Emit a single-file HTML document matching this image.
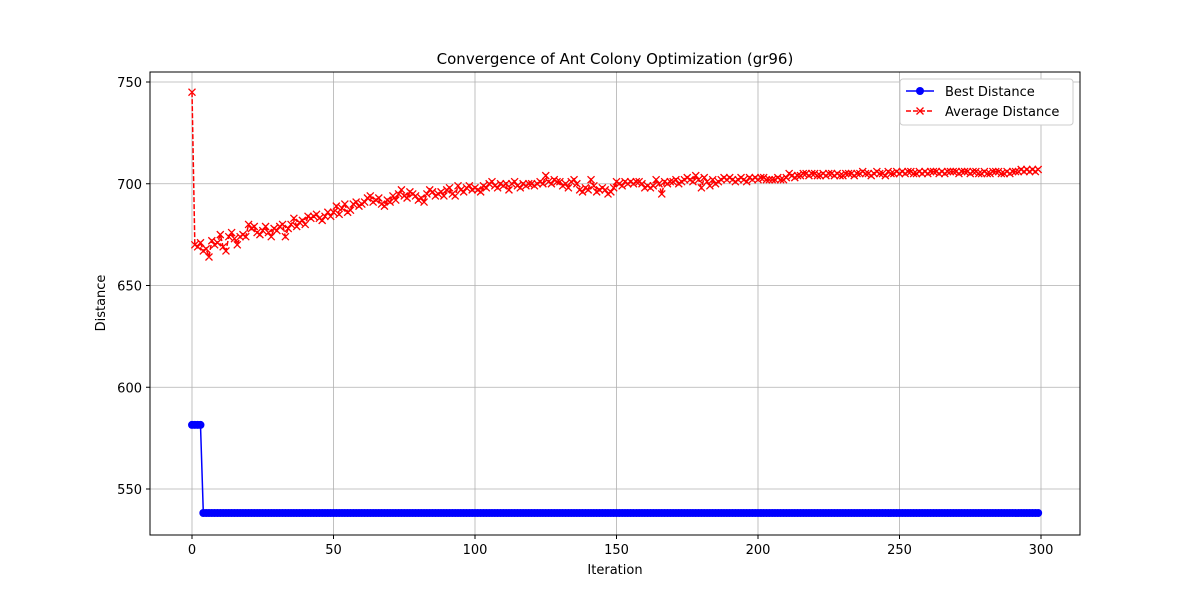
<!DOCTYPE html>
<html><head><meta charset="utf-8"><style>
body{margin:0;background:#fff;font-family:"Liberation Sans","DejaVu Sans",sans-serif}
svg text{font-family:"DejaVu Sans","Liberation Sans",sans-serif}
</style></head><body>
<svg id="chart" width="1200" height="600" xmlns="http://www.w3.org/2000/svg">
<rect width="1200" height="600" fill="#fff"/>
<g id="grid"></g>
<g id="series"></g>
<rect x="150" y="72" width="930" height="463" fill="none" stroke="#000" stroke-width="1"/>
<g id="axes"></g>
<text x="615" y="64" text-anchor="middle" font-size="15">Convergence of Ant Colony Optimization (gr96)</text>
<text x="615" y="574" text-anchor="middle" font-size="13">Iteration</text>
<text x="105" y="303" text-anchor="middle" font-size="13" transform="rotate(-90 105 303)">Distance</text>
<g>
<rect x="900" y="79" width="173" height="46" rx="3" fill="#fff" stroke="#ccc"/>
<g>
<line x1="906" y1="91" x2="934" y2="91" stroke="#0000ff" stroke-width="1.5"/>
<circle cx="920" cy="91" r="4" fill="#0000ff"/>
<text x="945" y="96" font-size="13">Best Distance</text></g>
<g>
<line x1="906" y1="111" x2="934" y2="111" stroke="#ff0000" stroke-width="1.5" stroke-dasharray="5,2"/>
<path d="M916.5,107.5L923.5,114.5M916.5,114.5L923.5,107.5" stroke="#ff0000" stroke-width="1.3"/>
<text x="945" y="116" font-size="13">Average Distance</text></g>
</g>
</svg>
<script>
const xTicks=[0,50,100,150,200,250,300];
const yTicks=[550,600,650,700,750];
const bestValues=[581.5,581.5,581.5,581.5];
const bestFinal=538.2;
const avgValues=[
745,670,669,671,667,668,664,672,670,671,
675,669,667,674,676,673,670,674,675,674,
680,678,679,676,675,677,679,676,674,678,
677,679,680,674,678,680,683,679,681,682,
680,684,683,684,685,683,682,684,686,684,
686,689,685,688,690,686,687,690,691,689,
690,691,693,694,691,692,693,690,689,692,
691,694,692,695,697,694,693,696,695,694,
692,693,691,695,697,696,694,695,696,694,
697,698,695,694,699,697,696,698,699,697,
698,697,696,699,698,700,701,699,698,700,
699,700,697,700,701,699,698,700,699,700,
700,699,700,701,700,704,701,700,702,701,
701,699,700,698,701,702,700,697,696,698,
697,702,699,696,697,698,697,695,696,698,
701,700,699,701,700,701,700,701,701,700,
698,699,698,699,702,700,695,701,700,701,
701,702,700,701,702,703,702,701,704,702,
698,703,701,699,702,700,701,702,703,702,
703,702,701,702,703,702,701,703,702,703,
702,703,703,702,702,702,702,703,702,702,
703,705,704,703,704,704,705,705,704,705,
705,704,704,705,704,705,705,704,705,704,
704,705,705,705,704,705,705,706,705,705,
704,705,706,705,705,704,706,705,705,706,
705,706,705,706,706,705,705,706,705,706,
705,706,706,706,705,706,705,706,706,706,
706,705,706,706,706,705,706,706,705,705,
706,705,705,706,706,706,705,705,706,705,
706,706,706,707,706,707,706,707,706,707
];
const X=v=>192+(v-0)*(1041-192)/300;
const Y=v=>489-(v-550)*(489-82)/200;
const NS="http://www.w3.org/2000/svg";
function mk(tag,attrs,parent){const e=document.createElementNS(NS,tag);for(const k in attrs)e.setAttribute(k,attrs[k]);parent.appendChild(e);return e;}
const grid=document.getElementById('grid'),axes=document.getElementById('axes'),ser=document.getElementById('series');
xTicks.forEach(t=>{
 const x=X(t);
 const g=mk('line',{x1:x,x2:x,y1:72,y2:535,stroke:'#b0b0b0','stroke-width':0.8},grid);
 
 
 mk('line',{x1:x,x2:x,y1:535,y2:539,stroke:'#000'},axes);
 const l=mk('text',{x:x,y:554,'text-anchor':'middle','font-size':13},axes);
 l.textContent=t;
 
 
});
yTicks.forEach(t=>{
 const y=Y(t);
 const g=mk('line',{x1:150,x2:1080,y1:y,y2:y,stroke:'#b0b0b0','stroke-width':0.8},grid);
 
 
 mk('line',{x1:146,x2:150,y1:y,y2:y,stroke:'#000'},axes);
 const l=mk('text',{x:142,y:y+5,'text-anchor':'end','font-size':13},axes);
 l.textContent=t;
 
 
});
const best=avgValues.map((_,i)=>i<bestValues.length?bestValues[i]:bestFinal);
const bp=mk('polyline',{points:best.map((v,i)=>X(i)+','+Y(v)).join(' '),fill:'none',stroke:'#0000ff','stroke-width':1.5},ser);


best.forEach((v,i)=>{const c=mk('circle',{cx:X(i),cy:Y(v),r:4,fill:'#0000ff'},ser);
 
 });
const ap=mk('polyline',{points:avgValues.map((v,i)=>X(i)+','+Y(v)).join(' '),fill:'none',stroke:'#ff0000','stroke-width':1.5,'stroke-dasharray':'5,2'},ser);


let d='';
avgValues.forEach((v,i)=>{const x=X(i),y=Y(v);d+=`M${x-3.5},${y-3.5}L${x+3.5},${y+3.5}M${x-3.5},${y+3.5}L${x+3.5},${y-3.5}`;});
const am=mk('path',{d:d,stroke:'#ff0000','stroke-width':1.3,fill:'none'},ser);


</script>
</body></html>
